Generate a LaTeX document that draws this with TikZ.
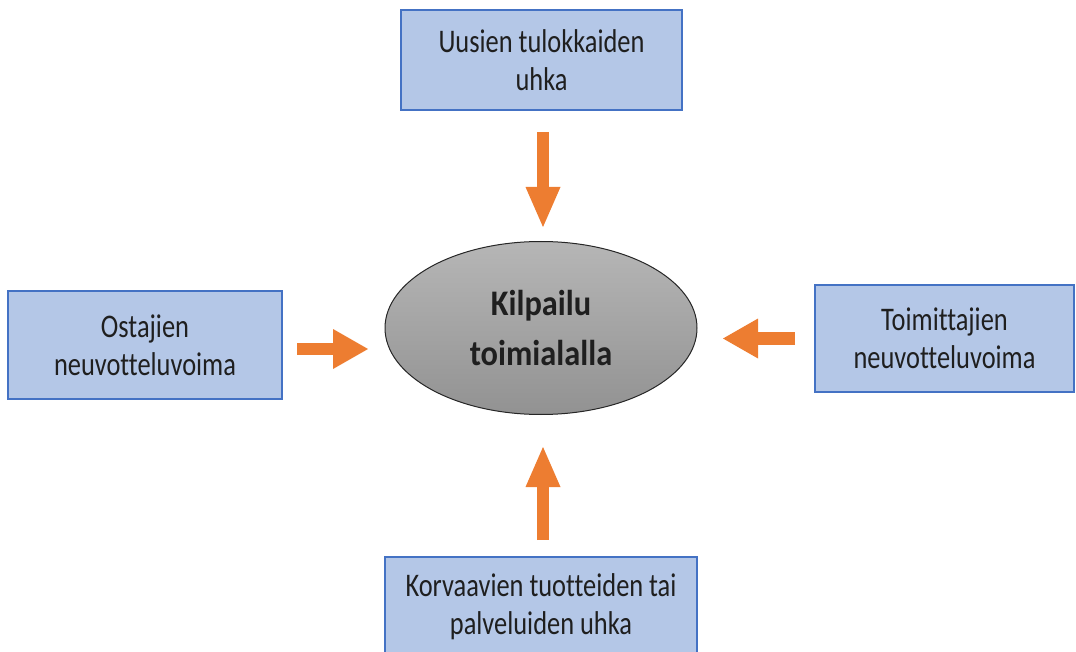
\documentclass[tikz,border=0pt]{standalone}
\usepackage{fontspec}
\setmainfont{Carlito}[Ligatures=NoCommon]
\newfontfamily\boxfont{Carlito}[Ligatures=NoCommon,FakeStretch=0.8]
\newfontfamily\ellfont{Carlito}[Ligatures=NoCommon,FakeStretch=0.9]
\usetikzlibrary{arrows.meta,shapes.geometric}
\definecolor{boxfill}{RGB}{180,199,231}
\definecolor{boxline}{RGB}{68,114,196}
\definecolor{arrorange}{RGB}{237,125,49}
\definecolor{elltop}{RGB}{182,182,182}
\definecolor{ellbot}{RGB}{146,146,146}
\tikzset{
  forcebox/.style={draw=boxline, line width=1.3pt, fill=boxfill, inner sep=0pt,
    align=center, font=\boxfont\fontsize{33}{38}\selectfont, text=black!88},
  vforcearrow/.style={draw=arrorange, line width=12pt,
    -{Triangle[width=35pt,length=40pt,line width=0pt,fill=arrorange]}},
  hforcearrow/.style={draw=arrorange, line width=12.5pt,
    -{Triangle[width=40pt,length=35pt,line width=0pt,fill=arrorange]}},
}
\begin{document}
\begin{tikzpicture}[x=1pt,y=-1pt]
\useasboundingbox (0,0) rectangle (1076,652);
\clip (0,0) rectangle (1076,652);
\node[forcebox, minimum width=281pt, minimum height=100pt] (top) at (541.5,60) {Uusien tulokkaiden\\uhka};
\node[forcebox, minimum width=274pt, minimum height=108pt] (left) at (145,345) {Ostajien\\neuvotteluvoima};
\node[forcebox, minimum width=259pt, minimum height=107pt] (right) at (944.5,338.5) {Toimittajien\\neuvotteluvoima};
\node[forcebox, minimum width=312pt, minimum height=100pt] (bottom) at (541,607) {Korvaavien tuotteiden tai\\palveluiden uhka};
\node[ellipse, draw=black!85, line width=1pt, top color=elltop, bottom color=ellbot,
  minimum width=312pt, minimum height=173pt, inner sep=0pt, align=center,
  font=\ellfont\bfseries\fontsize{36}{50}\selectfont, text=black!88] (center) at (541,328) {Kilpailu\\toimialalla};
\coordinate (ta) at (543,132); \coordinate (tb) at (543,227);
\coordinate (la) at (297,349); \coordinate (lb) at (368,349);
\coordinate (ra) at (795,338.5); \coordinate (rb) at (723,338.5);
\coordinate (ba) at (543,540); \coordinate (bb) at (543,447);
\draw[vforcearrow] (ta) -- (tb);
\draw[hforcearrow] (la) -- (lb);
\draw[hforcearrow] (ra) -- (rb);
\draw[vforcearrow] (ba) -- (bb);
\end{tikzpicture}
\end{document}
